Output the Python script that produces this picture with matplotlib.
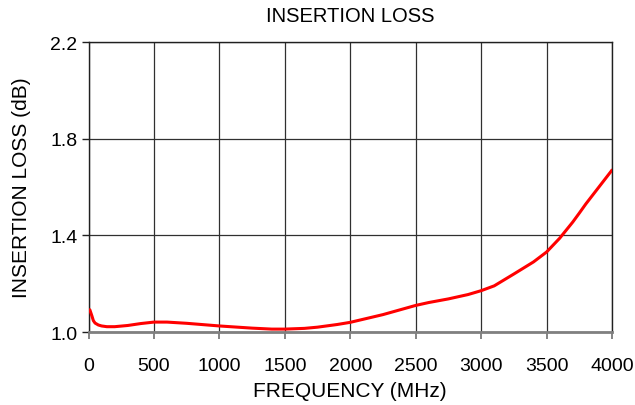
import numpy as np
import matplotlib.pyplot as plt

plt.rcParams['font.family'] = ['Liberation Sans', 'DejaVu Sans']

freq = [10, 25, 37, 50, 75, 100, 140, 200, 300, 400, 500, 600, 750, 1000,
        1250, 1400, 1500, 1650, 1750, 1900, 2000, 2250, 2500, 2600, 2750,
        2900, 3000, 3100, 3250, 3400, 3500, 3600, 3700, 3750, 3800, 3900, 4000]
loss = [1.092, 1.068, 1.047, 1.037, 1.029, 1.025, 1.022, 1.022, 1.027, 1.035,
        1.041, 1.041, 1.036, 1.025, 1.016, 1.012, 1.012, 1.015, 1.020, 1.031,
        1.040, 1.072, 1.110, 1.122, 1.137, 1.155, 1.171, 1.191, 1.240, 1.290,
        1.331, 1.388, 1.455, 1.492, 1.530, 1.600, 1.670]

xticks = [0, 500, 1000, 1500, 2000, 2500, 3000, 3500, 4000]
yticks = [1.0, 1.4, 1.8, 2.2]

fig = plt.figure(figsize=(6.35, 4.06), dpi=100)
ax = fig.add_axes([0.1394, 0.1798, 0.8244, 0.7142])

ax.plot(freq, loss, color='#ff0000', linewidth=2.2, solid_capstyle='round',
        solid_joinstyle='round', zorder=3)

ax.set_xlim(0, 4000)
ax.set_ylim(1.0, 2.2)
ax.set_xticks(xticks)
ax.set_yticks(yticks)
ax.set_yticklabels(['1.0', '1.4', '1.8', '2.2'])
ax.grid(True, color='#303030', linewidth=0.9)

for s in ['top', 'left', 'right']:
    ax.spines[s].set_color('#202020')
    ax.spines[s].set_linewidth(1.0)
ax.spines['bottom'].set_color('#808080')
ax.spines['bottom'].set_linewidth(2.0)
ax.spines['bottom'].set_zorder(4)

ax.tick_params(axis='x', direction='out', length=5, width=1.2, color='#707070',
               labelsize=14, pad=13)
ax.tick_params(axis='y', direction='out', length=5, width=1.0, color='#202020',
               labelsize=14, pad=3)

ax.set_title('INSERTION LOSS', fontsize=14.5, pad=15)
ax.set_xlabel('FREQUENCY (MHz)', fontsize=15, labelpad=5)
ax.set_ylabel('INSERTION LOSS (dB)', fontsize=15, labelpad=14)

plt.savefig('out.png', dpi=100)
